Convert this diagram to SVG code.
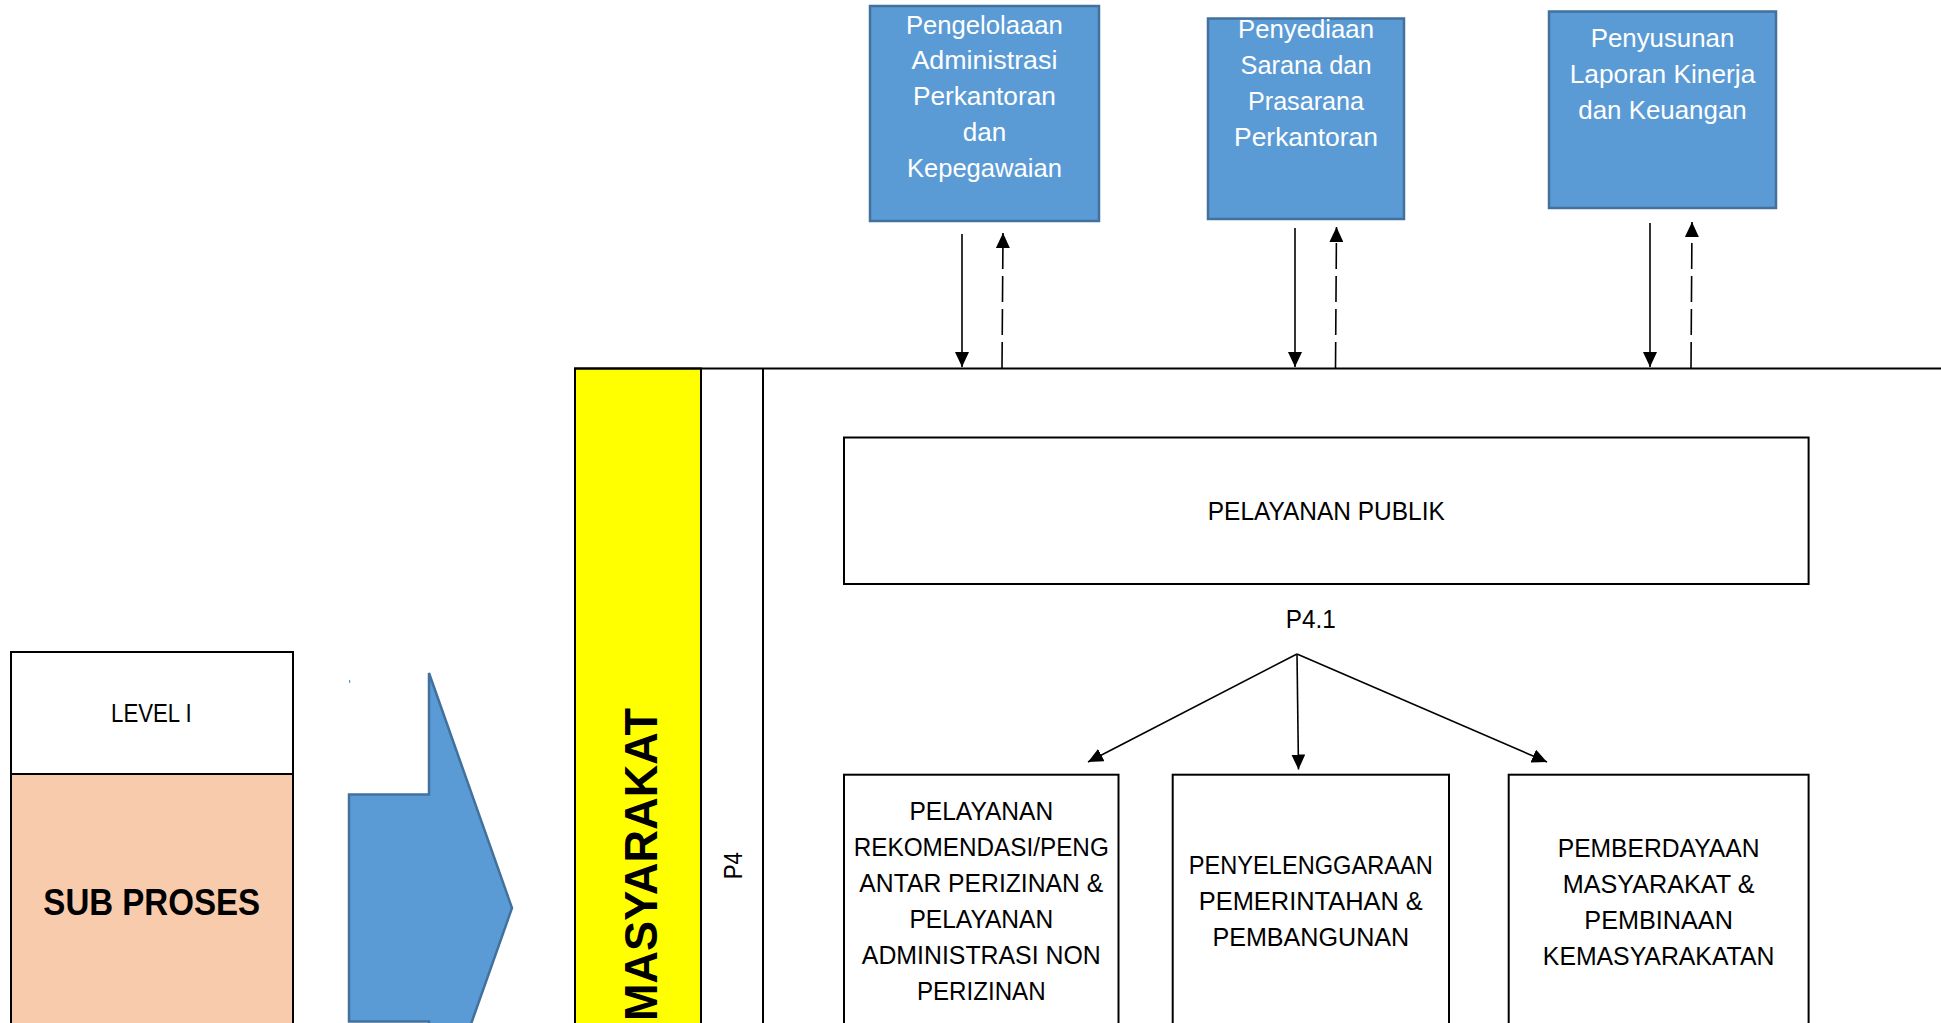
<svg xmlns="http://www.w3.org/2000/svg" width="1941" height="1023" viewBox="0 0 1941 1023">
<style>
.t{font-family:"Liberation Sans",Arial,sans-serif;font-size:25px;fill:#000;text-anchor:middle}
.w{fill:#fff}
.b{font-weight:bold}
.f46{font-size:46px}
.f37{font-size:37px}
.box{fill:#fff;stroke:#000;stroke-width:2}
.blue{fill:#5B9BD5;stroke:#41719C;stroke-width:2.5}
.ln{stroke:#000;stroke-width:1.6;fill:none}
.dash{stroke-dasharray:26 7}
</style>
<defs>
<marker id="ah" viewBox="0 0 15 14" refX="15" refY="7" markerWidth="15" markerHeight="14" markerUnits="userSpaceOnUse" orient="auto">
<path d="M0,0 L15,7 L0,14 Z" fill="#000"/>
</marker>
</defs>
<rect width="1941" height="1023" fill="#fff"/>

<g id="frame">
<rect x="575" y="368.5" width="126" height="670" fill="#FFFF00" stroke="#000" stroke-width="2"/>
<line x1="574" y1="368.5" x2="1941" y2="368.5" stroke="#000" stroke-width="2.2"/>
<line x1="763" y1="368.5" x2="763" y2="1023" stroke="#000" stroke-width="2"/>
<text class="t b f46" transform="translate(656.7,1021) rotate(-90)" x="156.5" y="0" textLength="313" lengthAdjust="spacingAndGlyphs">MASYARAKAT</text>
<text class="t" transform="translate(741.7,879.3) rotate(-90)" x="13.6" y="0" textLength="27.3" lengthAdjust="spacingAndGlyphs">P4</text>
</g>

<g id="level">
<rect class="box" x="11" y="652" width="282" height="122"/>
<text class="t" x="151.4" y="722" textLength="80.7" lengthAdjust="spacingAndGlyphs">LEVEL I</text>
</g>
<g id="subproses">
<rect x="11" y="774" width="282" height="260" fill="#F8CBAD" stroke="#000" stroke-width="2"/>
<text class="t b f37" x="151.7" y="915" textLength="216.7" lengthAdjust="spacingAndGlyphs">SUB PROSES</text>
</g>
<g id="bigarrow">
<polygon class="blue" stroke-width="2" points="349,794.5 429,794.5 429,673 512,908 429,1143 429,1021.5 349,1021.5"/>
<rect x="349" y="680" width="1.2" height="3" fill="#5B9BD5"/>
</g>

<g id="box-admin">
<rect class="blue" x="870" y="6" width="229" height="215"/>
<text class="t w" x="984.4" y="33.5" textLength="157" lengthAdjust="spacingAndGlyphs">Pengelolaaan</text>
<text class="t w" x="984.4" y="69.3" textLength="146" lengthAdjust="spacingAndGlyphs">Administrasi</text>
<text class="t w" x="984.4" y="105.2" textLength="143" lengthAdjust="spacingAndGlyphs">Perkantoran</text>
<text class="t w" x="984.4" y="141" textLength="43.5" lengthAdjust="spacingAndGlyphs">dan</text>
<text class="t w" x="984.4" y="177" textLength="155" lengthAdjust="spacingAndGlyphs">Kepegawaian</text>
</g>
<g id="box-sarana">
<rect class="blue" x="1208" y="18.5" width="196" height="200.5"/>
<text class="t w" x="1306" y="38.3" textLength="136" lengthAdjust="spacingAndGlyphs">Penyediaan</text>
<text class="t w" x="1306" y="74" textLength="131" lengthAdjust="spacingAndGlyphs">Sarana dan</text>
<text class="t w" x="1306" y="109.8" textLength="116" lengthAdjust="spacingAndGlyphs">Prasarana</text>
<text class="t w" x="1306" y="145.5" textLength="144" lengthAdjust="spacingAndGlyphs">Perkantoran</text>
</g>
<g id="box-laporan">
<rect class="blue" x="1549" y="11.5" width="227" height="196.5"/>
<text class="t w" x="1662.5" y="47.3" textLength="143.6" lengthAdjust="spacingAndGlyphs">Penyusunan</text>
<text class="t w" x="1662.5" y="83.2" textLength="185.7" lengthAdjust="spacingAndGlyphs">Laporan Kinerja</text>
<text class="t w" x="1662.5" y="119" textLength="168.4" lengthAdjust="spacingAndGlyphs">dan Keuangan</text>
</g>

<g id="pelayanan-publik">
<rect class="box" x="844" y="437.5" width="964.6" height="146.5"/>
<text class="t" x="1326.3" y="519.5" textLength="237" lengthAdjust="spacingAndGlyphs">PELAYANAN PUBLIK</text>
</g>
<g id="p41-label">
<text class="t" x="1310.7" y="627.5" textLength="50" lengthAdjust="spacingAndGlyphs">P4.1</text>
</g>

<g id="box-rekomendasi">
<rect class="box" x="844" y="774.7" width="274.5" height="260"/>
<text class="t" x="981.3" y="820" textLength="143.6" lengthAdjust="spacingAndGlyphs">PELAYANAN</text>
<text class="t" x="981.3" y="856.2" textLength="255" lengthAdjust="spacingAndGlyphs">REKOMENDASI/PENG</text>
<text class="t" x="981.3" y="892" textLength="243.9" lengthAdjust="spacingAndGlyphs">ANTAR PERIZINAN &amp;</text>
<text class="t" x="981.3" y="928" textLength="143.6" lengthAdjust="spacingAndGlyphs">PELAYANAN</text>
<text class="t" x="981.3" y="964" textLength="238.9" lengthAdjust="spacingAndGlyphs">ADMINISTRASI NON</text>
<text class="t" x="981.3" y="999.7" textLength="128.7" lengthAdjust="spacingAndGlyphs">PERIZINAN</text>
</g>
<g id="box-pemerintahan">
<rect class="box" x="1172.7" y="774.7" width="276.3" height="260"/>
<text class="t" x="1310.8" y="873.5" textLength="243.9" lengthAdjust="spacingAndGlyphs">PENYELENGGARAAN</text>
<text class="t" x="1310.8" y="909.5" textLength="224" lengthAdjust="spacingAndGlyphs">PEMERINTAHAN &amp;</text>
<text class="t" x="1310.8" y="945.5" textLength="196.8" lengthAdjust="spacingAndGlyphs">PEMBANGUNAN</text>
</g>
<g id="box-pemberdayaan">
<rect class="box" x="1508.7" y="774.7" width="299.9" height="260"/>
<text class="t" x="1658.6" y="856.5" textLength="201.8" lengthAdjust="spacingAndGlyphs">PEMBERDAYAAN</text>
<text class="t" x="1658.6" y="892.5" textLength="191.9" lengthAdjust="spacingAndGlyphs">MASYARAKAT &amp;</text>
<text class="t" x="1658.6" y="928.5" textLength="148.5" lengthAdjust="spacingAndGlyphs">PEMBINAAN</text>
<text class="t" x="1658.6" y="964.5" textLength="231.5" lengthAdjust="spacingAndGlyphs">KEMASYARAKATAN</text>
</g>

<g id="connectors">
<line class="ln" x1="962" y1="234" x2="962" y2="367" marker-end="url(#ah)"/>
<line class="ln dash" x1="1002" y1="368" x2="1003" y2="233" marker-end="url(#ah)"/>
<line class="ln" x1="1295" y1="228" x2="1295" y2="367" marker-end="url(#ah)"/>
<line class="ln dash" x1="1335.5" y1="368" x2="1336.5" y2="227" marker-end="url(#ah)"/>
<line class="ln" x1="1650" y1="223" x2="1650" y2="367" marker-end="url(#ah)"/>
<line class="ln dash" x1="1691" y1="368" x2="1692" y2="222" marker-end="url(#ah)"/>
<line class="ln" x1="1297" y1="654" x2="1088" y2="762" marker-end="url(#ah)"/>
<line class="ln" x1="1297" y1="654" x2="1298.5" y2="769.5" marker-end="url(#ah)"/>
<line class="ln" x1="1297" y1="654" x2="1547" y2="762" marker-end="url(#ah)"/>
</g>
</svg>
